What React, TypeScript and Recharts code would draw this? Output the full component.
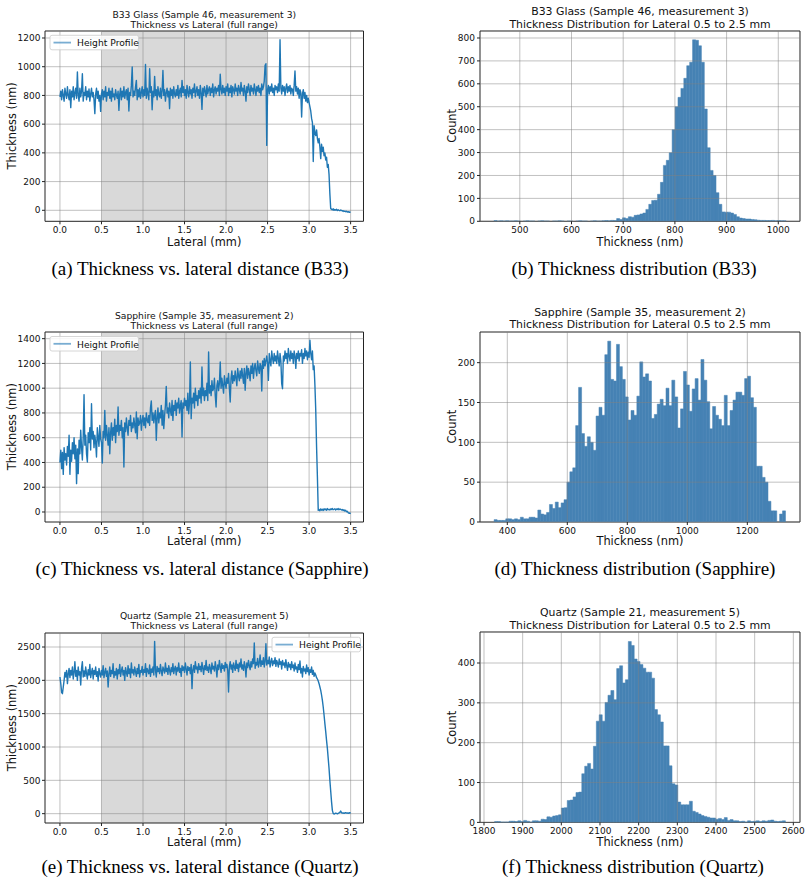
import React from 'react';
import {
  ComposedChart,
  Line,
  Bar,
  XAxis,
  YAxis,
  ReferenceArea,
  ReferenceLine,
} from 'recharts';

// ---------------------------------------------------------------------------
// Height profiles, sampled every 0.01 mm from 0.00 mm to 3.50 mm (351 points)
// ---------------------------------------------------------------------------
const LATERAL_STEP_MM = 0.01;

const B33_THICKNESS = [
  790, 830, 770, 840, 800, 760, 850, 810, 780, 860,
  800, 770, 840, 715, 830, 790, 860, 770, 820, 850,
  780, 963, 800, 760, 850, 790, 830, 951, 760, 820,
  800, 860, 770, 830, 790, 845, 760, 810, 850, 790,
  820, 770, 673, 810, 850, 780, 830, 760, 800, 689,
  810, 840, 770, 830, 790, 860, 760, 820, 800, 850,
  780, 830, 760, 850, 790, 810, 770, 840, 800, 780,
  830, 696, 810, 850, 770, 830, 790, 860, 780, 820,
  840, 770, 850, 691, 820, 800, 870, 998, 790, 830,
  800, 860, 905, 770, 840, 790, 850, 780, 820, 860,
  790, 840, 800, 1016, 780, 850, 810, 770, 986, 820,
  860, 700, 830, 790, 933, 800, 840, 770, 860, 810,
  790, 850, 780, 830, 974, 800, 840, 760, 820, 850,
  790, 830, 708, 850, 800, 840, 780, 860, 810, 790,
  840, 800, 870, 780, 830, 850, 790, 905, 820, 860,
  800, 840, 780, 870, 820, 790, 860, 810, 840, 780,
  850, 820, 880, 790, 830, 860, 800, 840, 780, 870,
  820, 703, 850, 800, 860, 830, 790, 870, 810, 840,
  860, 800, 850, 820, 880, 790, 840, 860, 810, 850,
  830, 870, 800, 947, 840, 810, 870, 820, 850, 800,
  860, 830, 880, 800, 850, 820, 870, 790, 860, 840,
  810, 880, 830, 850, 800, 870, 840, 810, 890, 830,
  850, 800, 870, 830, 760, 860, 820, 880, 840, 800,
  870, 830, 850, 810, 880, 840, 800, 860, 830, 870,
  820, 850, 800, 880, 840, 860, 900, 1009, 1021, 452,
  840, 870, 810, 860, 830, 880, 820, 850, 800, 870,
  840, 860, 820, 880, 830, 1188, 850, 810, 870, 830,
  860, 800, 850, 880, 820, 860, 830, 870, 810, 850,
  840, 800, 870, 970, 830, 860, 810, 850, 780, 840,
  820, 650, 810, 840, 780, 820, 760, 800, 750, 780,
  750, 720, 690, 640, 610, 340, 590, 540, 520, 560,
  500, 470, 500, 440, 360, 460, 410, 440, 380, 400,
  350, 370, 300, 320, 250, 116, 12, 8, 3, 10,
  0, 5, 2, 7, -2, 4, 0, -3, 2, -1,
  -5, -3, -8, -6, -10, -7, -12, -9, -14, -12,
  -15,
];

const SAPPHIRE_THICKNESS = [
  400, 500, 350, 480, 304, 520, 420, 470, 380, 530,
  450, 620, 304, 500, 410, 560, 470, 600, 430, 540,
  229, 510, 310, 580, 470, 660, 520, 420, 600, 948,
  540, 620, 470, 404, 640, 560, 680, 500, 875, 590,
  650, 520, 620, 560, 444, 680, 600, 530, 700, 590,
  560, 396, 650, 600, 821, 580, 700, 620, 540, 680,
  471, 640, 720, 580, 680, 620, 750, 560, 700, 650,
  848, 620, 700, 660, 740, 600, 680, 363, 720, 650,
  760, 680, 620, 740, 700, 780, 650, 720, 680, 760,
  700, 640, 808, 592, 760, 700, 720, 780, 660, 740,
  780, 700, 760, 680, 800, 740, 720, 780, 700, 840,
  897, 740, 800, 720, 780, 820, 579, 760, 840, 720,
  800, 760, 860, 700, 820, 673, 780, 860, 1015, 800,
  840, 760, 880, 820, 780, 900, 740, 860, 820, 900,
  780, 880, 840, 920, 800, 860, 900, 606, 880, 840,
  920, 860, 900, 820, 960, 794, 880, 1212, 754, 920,
  880, 960, 840, 1000, 900, 940, 860, 980, 920, 1000,
  880, 1171, 940, 1000, 900, 980, 940, 1040, 900, 1292,
  960, 1020, 940, 1060, 980, 1000, 1080, 940, 848, 1020,
  1060, 980, 1040, 1212, 1000, 1080, 1020, 960, 1100, 1040,
  1000, 1080, 1040, 1120, 1000, 888, 1080, 1140, 1040, 1100,
  1060, 1140, 1080, 1020, 1160, 1100, 1060, 1140, 1080, 1160,
  1100, 1040, 1160, 983, 1120, 1180, 1080, 1160, 1120, 1060,
  1180, 1120, 1200, 1080, 1160, 1200, 1140, 1100, 1220, 1160,
  1120, 1200, 1180, 977, 1220, 1160, 1240, 1180, 1220, 1260,
  1200, 1063, 1280, 1220, 1180, 1300, 1240, 1200, 1280, 1220,
  1260, 1200, 1300, 1240, 1180, 1280, 1220, 1037, 996, 1260,
  1220, 1300, 1240, 1280, 1200, 1320, 1260, 1220, 1300, 1240,
  1280, 1200, 1300, 1260, 1160, 1280, 1240, 1300, 1220, 1280,
  1260, 1310, 1200, 1280, 1240, 1320, 1260, 1300, 1230, 1290,
  1250, 1387, 1280, 1230, 1300, 1150, 1180, 1023, 821, 525,
  283, 13, 20, 10, 25, 15, 22, 12, 26, 18,
  24, 14, 28, 18, 22, 16, 25, 20, 28, 18,
  22, 26, 16, 24, 20, 28, 18, 25, 22, 16,
  20, 12, 18, 8, 14, 2, 6, -5, -10, -8,
  -15,
];

const QUARTZ_THICKNESS = [
  2050, 1950, 1820, 1800, 1900, 2000, 2120, 2050, 2150, 1950,
  2100, 2180, 2040, 2150, 2080, 2200, 2020, 2120, 2280, 2060,
  2150, 2000, 2200, 2080, 2130, 1930, 2180, 2280, 2050, 2140,
  2060, 2200, 2100, 2020, 2160, 2080, 2240, 2040, 2120, 2180,
  2020, 2150, 2090, 2200, 2060, 2130, 1990, 2180, 2100, 2050,
  2150, 2080, 2220, 2040, 2120, 2180, 2060, 2140, 1900, 2100,
  2200, 2060, 2150, 2100, 2250, 2040, 2130, 2080, 2180, 2020,
  2160, 2100, 2240, 2060, 2140, 2200, 2080, 2150, 2000, 2190,
  2120, 2060, 2220, 2100, 2170, 2040, 2260, 2110, 2160, 2080,
  2200, 2130, 2060, 2180, 2100, 2240, 2050, 2150, 2120, 2210,
  2080, 2160, 2120, 2250, 2060, 2180, 2140, 2100, 2230, 2060,
  2170, 2120, 2200, 2080, 2585, 2150, 2050, 2210, 2130, 2180,
  2100, 2240, 2140, 2070, 2200, 2160, 2110, 2260, 2130, 2180,
  2090, 2220, 2150, 2080, 2190, 2130, 2250, 2100, 2170, 2210,
  2080, 2190, 2140, 2260, 2120, 2180, 2060, 2220, 2150, 2200,
  2120, 2260, 2170, 2080, 2210, 2150, 2190, 2100, 2240, 1875,
  2160, 2220, 2120, 2280, 2170, 2200, 2110, 2250, 2160, 2210,
  2130, 2270, 2180, 2090, 2220, 2160, 2300, 2150, 2200, 2120,
  2240, 2180, 2100, 2260, 2170, 2210, 2140, 2280, 2190, 2050,
  2230, 2160, 2300, 2200, 2120, 2250, 2180, 2220, 2140, 2270,
  2190, 2240, 2150, 1825, 2210, 2280, 2170, 2230, 2120, 2260,
  2200, 2150, 2300, 2180, 2240, 2130, 2260, 2200, 2320, 2170,
  2230, 2150, 2280, 2210, 2050, 2260, 2190, 2300, 2220, 2160,
  2280, 2200, 2320, 2250, 2560, 2180, 2270, 2230, 2330, 2200,
  2260, 2380, 2210, 2290, 2240, 2340, 2200, 2280, 2550, 2230,
  2300, 2250, 2350, 2200, 2280, 2330, 2220, 2290, 2250, 2340,
  2210, 2300, 2260, 2200, 2320, 2240, 2280, 2170, 2300, 2230,
  2260, 2190, 2310, 2220, 2150, 2270, 2200, 2240, 2160, 2280,
  2190, 2230, 2140, 2260, 2170, 2200, 2120, 2240, 2160, 2290,
  2110, 2180, 2050, 2210, 2140, 2170, 2100, 2230, 2130, 2190,
  2080, 2160, 2120, 2200, 2090, 2150, 2060, 2110, 2080, 2040,
  2020, 1990, 1950, 1900, 1850, 1780, 1700, 1600, 1480, 1350,
  1230, 1100, 980, 830, 680, 500, 340, 180, 50, 5,
  -5, 0, 8, 3, -2, 5, 12, 20, 40, 15,
  8, 12, 5, 10, 15, 8, 12, 6, 10, 14,
  8,
];

// ---------------------------------------------------------------------------
// Thickness histograms for lateral 0.5–2.5 mm (100 equal-width bins each)
// ---------------------------------------------------------------------------
const B33_BIN_START = 450;
const B33_BIN_WIDTH = 5.65;
const B33_COUNTS = [
  3, 1, 2, 1, 2, 1, 1, 2, 1, 0,
  1, 2, 1, 1, 0, 1, 2, 1, 1, 0,
  1, 1, 2, 1, 0, 1, 1, 0, 1, 2,
  1, 1, 0, 1, 2, 1, 1, 2, 3, 2,
  4, 3, 12, 8, 15, 12, 20, 18, 26, 28,
  32, 36, 52, 74, 91, 92, 118, 170, 244, 266,
  299, 400, 500, 541, 580, 624, 679, 694, 792, 790,
  766, 694, 490, 321, 222, 200, 125, 74, 41, 40,
  40, 36, 30, 20, 14, 12, 10, 10, 8, 7,
  5, 4, 4, 3, 3, 4, 2, 3, 2, 2,
];

const SAPPHIRE_BIN_START = 356;
const SAPPHIRE_BIN_WIDTH = 9.71;
const SAPPHIRE_COUNTS = [
  3, 2, 2, 2, 4, 4, 3, 4, 3, 6,
  4, 4, 6, 6, 5, 15, 10, 9, 12, 22,
  17, 25, 18, 24, 28, 50, 63, 68, 121, 169,
  111, 95, 107, 100, 90, 133, 144, 134, 210, 227,
  179, 177, 223, 195, 179, 157, 128, 140, 134, 158,
  201, 182, 186, 177, 130, 135, 148, 154, 146, 168,
  146, 178, 157, 118, 142, 189, 172, 139, 167, 180,
  153, 204, 178, 151, 117, 145, 134, 129, 121, 159,
  121, 140, 153, 163, 163, 159, 180, 183, 156, 144,
  70, 70, 56, 50, 26, 14, 14, 0, 10, 14,
];

const QUARTZ_BIN_START = 1827.3;
const QUARTZ_BIN_WIDTH = 7.52;
const QUARTZ_COUNTS = [
  2, 2, 1, 1, 1, 3, 3, 2, 4, 2,
  5, 3, 1, 4, 4, 3, 8, 7, 14, 13,
  16, 17, 19, 36, 37, 55, 56, 64, 75, 76,
  122, 141, 148, 134, 191, 254, 270, 254, 301, 319,
  331, 308, 386, 393, 350, 358, 454, 444, 410, 404,
  396, 387, 377, 377, 362, 283, 270, 252, 192, 192,
  142, 97, 94, 51, 44, 44, 44, 53, 28, 25,
  21, 17, 15, 13, 11, 11, 8, 10, 7, 12,
  5, 7, 4, 4, 2, 3, 1, 4, 2, 3,
  4, 2, 4, 3, 5, 6, 3, 2, 3, 4,
];

// ---------------------------------------------------------------------------
// Axis ticks
// ---------------------------------------------------------------------------
const LATERAL_TICKS = [0, 0.5, 1, 1.5, 2, 2.5, 3, 3.5];
const B33_PROFILE_TICKS = [0, 200, 400, 600, 800, 1000, 1200];
const SAPPHIRE_PROFILE_TICKS = [0, 200, 400, 600, 800, 1000, 1200, 1400];
const QUARTZ_PROFILE_TICKS = [0, 500, 1000, 1500, 2000, 2500];

const B33_HIST_X_TICKS = [500, 600, 700, 800, 900, 1000];
const B33_HIST_Y_TICKS = [0, 100, 200, 300, 400, 500, 600, 700, 800];
const SAPPHIRE_HIST_X_TICKS = [400, 600, 800, 1000, 1200];
const SAPPHIRE_HIST_Y_TICKS = [0, 50, 100, 150, 200];
const QUARTZ_HIST_X_TICKS = [1800, 1900, 2000, 2100, 2200, 2300, 2400, 2500, 2600];
const QUARTZ_HIST_Y_TICKS = [0, 100, 200, 300, 400];

// Highlighted lateral window used for the histograms
const WINDOW_START_MM = 0.5;
const WINDOW_END_MM = 2.5;

// ---------------------------------------------------------------------------
// Styling / layout
// ---------------------------------------------------------------------------
const SANS = 'DejaVu Sans, Verdana, sans-serif';
const SERIF = 'Liberation Serif, Times New Roman, serif';
const INK = '#111';
const SMALL_FONT = 9.2;
const TICK_FONT = 9;
const LARGE_FONT = 11.4;
const HIST_TITLE_FONT = 10.9;
const TICK_STYLE = { fontSize: TICK_FONT, fill: INK, fontFamily: SANS };
const GRID = { stroke: '#808080', strokeOpacity: 0.55, strokeWidth: 0.9 };
const LINE_BLUE = '#1f77b4';
const BAR_BLUE = '#4682b4';

const Y_AXIS_W = 45;
const X_AXIS_H = 30;
const PAD = 6;

type Rect = { left: number; right: number; top: number; bottom: number };

const LATERAL_DOMAIN: [number, number] = [-0.18, 3.655];

const PLOT_A: Rect = { left: 45, right: 363.5, top: 30.7, bottom: 221 };
const PLOT_B: Rect = { left: 480, right: 800, top: 30.7, bottom: 221 };
const PLOT_C: Rect = { left: 45, right: 363.5, top: 331.7, bottom: 521.7 };
const PLOT_D: Rect = { left: 480, right: 800, top: 331.7, bottom: 521.7 };
const PLOT_E: Rect = { left: 45, right: 363.5, top: 632.7, bottom: 822.7 };
const PLOT_F: Rect = { left: 480, right: 800, top: 632.3, bottom: 822.7 };

function chartBox(plot: Rect) {
  return {
    left: plot.left - Y_AXIS_W,
    top: plot.top - PAD,
    width: plot.right - plot.left + Y_AXIS_W + PAD,
    height: plot.bottom - plot.top + PAD + X_AXIS_H,
  };
}

type ProfileProps = {
  plot: Rect;
  values: number[];
  yDomain: [number, number];
  yTicks: number[];
};

function ProfilePanel({ plot, values, yDomain, yTicks }: ProfileProps) {
  const rows = values.map((t, i) => ({
    lateral: Math.round(i * LATERAL_STEP_MM * 1000) / 1000,
    thickness: t,
  }));
  const box = chartBox(plot);
  return (
    <div style={{ position: 'absolute', left: box.left, top: box.top }}>
      <ComposedChart
        width={box.width}
        height={box.height}
        data={rows}
        margin={{ top: PAD, right: PAD, bottom: 0, left: 0 }}
      >
        <XAxis
          type="number"
          dataKey="lateral"
          domain={LATERAL_DOMAIN}
          ticks={LATERAL_TICKS}
          interval={0}
          allowDataOverflow
          height={X_AXIS_H}
          axisLine={false}
          tickLine={{ stroke: '#222' }}
          tickSize={3}
          tickMargin={2.6}
          tick={TICK_STYLE}
          tickFormatter={(v: number) => v.toFixed(1)}
        />
        <YAxis
          type="number"
          domain={yDomain}
          ticks={yTicks}
          interval={0}
          allowDataOverflow
          width={Y_AXIS_W}
          axisLine={false}
          tickLine={{ stroke: '#222' }}
          tickSize={3}
          tickMargin={1.5}
          tick={TICK_STYLE}
        />
        <ReferenceArea
          x1={WINDOW_START_MM}
          x2={WINDOW_END_MM}
          fill="#808080"
          fillOpacity={0.3}
          stroke="none"
        />
        {LATERAL_TICKS.map((t) => (
          <ReferenceLine key={'gx' + t} x={t} {...GRID} />
        ))}
        {yTicks.map((t) => (
          <ReferenceLine key={'gy' + t} y={t} {...GRID} />
        ))}
        <Line
          type="linear"
          dataKey="thickness"
          stroke={LINE_BLUE}
          strokeWidth={1.4}
          strokeLinejoin="round"
          dot={false}
          activeDot={false}
          isAnimationActive={false}
        />
        <ReferenceArea
          x1={LATERAL_DOMAIN[0]}
          x2={LATERAL_DOMAIN[1]}
          y1={yDomain[0]}
          y2={yDomain[1]}
          fill="none"
          stroke="#222"
          strokeWidth={1}
        />
      </ComposedChart>
    </div>
  );
}

type HistProps = {
  plot: Rect;
  counts: number[];
  binStart: number;
  binWidth: number;
  xDomain: [number, number];
  xTicks: number[];
  yDomain: [number, number];
  yTicks: number[];
};

function HistogramPanel({
  plot,
  counts,
  binStart,
  binWidth,
  xDomain,
  xTicks,
  yDomain,
  yTicks,
}: HistProps) {
  const rows = counts.map((c, i) => ({
    center: binStart + (i + 0.5) * binWidth,
    count: c,
  }));
  const box = chartBox(plot);
  return (
    <div style={{ position: 'absolute', left: box.left, top: box.top }}>
      <ComposedChart
        width={box.width}
        height={box.height}
        data={rows}
        margin={{ top: PAD, right: PAD, bottom: 0, left: 0 }}
        barCategoryGap={0}
        barGap={0}
      >
        <XAxis
          type="number"
          dataKey="center"
          domain={xDomain}
          ticks={xTicks}
          interval={0}
          allowDataOverflow
          height={X_AXIS_H}
          axisLine={false}
          tickLine={{ stroke: '#222' }}
          tickSize={3}
          tickMargin={2.6}
          tick={TICK_STYLE}
        />
        <YAxis
          type="number"
          domain={yDomain}
          ticks={yTicks}
          interval={0}
          allowDataOverflow
          width={Y_AXIS_W}
          axisLine={false}
          tickLine={{ stroke: '#222' }}
          tickSize={3}
          tickMargin={2}
          tick={TICK_STYLE}
        />
        <Bar
          dataKey="count"
          fill={BAR_BLUE}
          stroke={BAR_BLUE}
          strokeWidth={0.5}
          isAnimationActive={false}
        />
        {xTicks.map((t) => (
          <ReferenceLine key={'gx' + t} x={t} {...GRID} />
        ))}
        {yTicks.map((t) => (
          <ReferenceLine key={'gy' + t} y={t} {...GRID} />
        ))}
        <ReferenceArea
          x1={xDomain[0]}
          x2={xDomain[1]}
          y1={yDomain[0]}
          y2={yDomain[1]}
          fill="none"
          stroke="#222"
          strokeWidth={1}
        />
      </ComposedChart>
    </div>
  );
}

function ProfileLegend({ x, y }: { x: number; y: number }) {
  return (
    <g>
      <rect
        x={x}
        y={y}
        width={88.5}
        height={14.5}
        rx={2}
        fill="#fff"
        fillOpacity={0.85}
        stroke="#cccccc"
        strokeWidth={0.8}
      />
      <line
        x1={x + 3.5}
        x2={x + 21}
        y1={y + 7.3}
        y2={y + 7.3}
        stroke={LINE_BLUE}
        strokeOpacity={0.6}
        strokeWidth={1.8}
      />
      <text
        x={x + 27}
        y={y + 7.5}
        fontSize={SMALL_FONT}
        fontFamily={SANS}
        fill={INK}
        dominantBaseline="central"
      >
        Height Profile
      </text>
    </g>
  );
}

function Annotations() {
  const small = { fontSize: SMALL_FONT, fontFamily: SANS, fill: INK, textAnchor: 'middle' as const, dominantBaseline: 'central' as const };
  const big = { fontSize: LARGE_FONT, fontFamily: SANS, fill: INK, textAnchor: 'middle' as const, dominantBaseline: 'central' as const };
  const htitle = { ...big, fontSize: HIST_TITLE_FONT };
  const cap = { fontSize: 19, fontFamily: SERIF, fill: '#000', textAnchor: 'middle' as const, dominantBaseline: 'central' as const };
  const lx = (PLOT_A.left + PLOT_A.right) / 2;
  const hx = (PLOT_B.left + PLOT_B.right) / 2;
  const midA = (PLOT_A.top + PLOT_A.bottom) / 2;
  const midC = (PLOT_C.top + PLOT_C.bottom) / 2;
  const midE = (PLOT_E.top + PLOT_E.bottom) / 2;
  return (
    <svg
      width={810}
      height={885}
      style={{ position: 'absolute', left: 0, top: 0, pointerEvents: 'none' }}
    >
      {/* Row 1: B33 glass */}
      <text x={lx} y={14} {...small}>B33 Glass (Sample 46, measurement 3)</text>
      <text x={lx} y={24.3} {...small}>Thickness vs Lateral (full range)</text>
      <text x={hx} y={11.4} {...htitle}>B33 Glass (Sample 46, measurement 3)</text>
      <text x={hx} y={24.2} {...htitle}>Thickness Distribution for Lateral 0.5 to 2.5 mm</text>
      <text x={11.7} y={midA} {...big} transform={`rotate(-90 11.7 ${midA})`}>Thickness (nm)</text>
      <text x={451.7} y={midA} {...big} transform={`rotate(-90 451.7 ${midA})`}>Count</text>
      <text x={lx} y={241.5} {...big}>Lateral (mm)</text>
      <text x={hx} y={241.5} {...big}>Thickness (nm)</text>
      <ProfileLegend x={50} y={35.3} />
      <text x={200} y={268} {...cap}>(a) Thickness vs. lateral distance (B33)</text>
      <text x={634} y={268} {...cap}>(b) Thickness distribution (B33)</text>

      {/* Row 2: sapphire */}
      <text x={lx} y={315} {...small}>Sapphire (Sample 35, measurement 2)</text>
      <text x={lx} y={325.3} {...small}>Thickness vs Lateral (full range)</text>
      <text x={hx} y={312} {...htitle}>Sapphire (Sample 35, measurement 2)</text>
      <text x={hx} y={324.6} {...htitle}>Thickness Distribution for Lateral 0.5 to 2.5 mm</text>
      <text x={11.7} y={midC} {...big} transform={`rotate(-90 11.7 ${midC})`}>Thickness (nm)</text>
      <text x={451.7} y={midC} {...big} transform={`rotate(-90 451.7 ${midC})`}>Count</text>
      <text x={lx} y={541} {...big}>Lateral (mm)</text>
      <text x={hx} y={541} {...big}>Thickness (nm)</text>
      <ProfileLegend x={50} y={336.5} />
      <text x={202} y={568} {...cap}>(c) Thickness vs. lateral distance (Sapphire)</text>
      <text x={635} y={568} {...cap}>(d) Thickness distribution (Sapphire)</text>

      {/* Row 3: quartz */}
      <text x={lx} y={615} {...small}>Quartz (Sample 21, measurement 5)</text>
      <text x={lx} y={625.7} {...small}>Thickness vs Lateral (full range)</text>
      <text x={hx} y={612.6} {...htitle}>Quartz (Sample 21, measurement 5)</text>
      <text x={hx} y={625.2} {...htitle}>Thickness Distribution for Lateral 0.5 to 2.5 mm</text>
      <text x={11.7} y={midE} {...big} transform={`rotate(-90 11.7 ${midE})`}>Thickness (nm)</text>
      <text x={451.7} y={midE} {...big} transform={`rotate(-90 451.7 ${midE})`}>Count</text>
      <text x={lx} y={842} {...big}>Lateral (mm)</text>
      <text x={hx} y={842} {...big}>Thickness (nm)</text>
      <ProfileLegend x={272} y={637.3} />
      <text x={200} y={866} {...cap}>(e) Thickness vs. lateral distance (Quartz)</text>
      <text x={633} y={866} {...cap}>(f) Thickness distribution (Quartz)</text>
    </svg>
  );
}

export default function App() {
  return (
    <div
      style={{
        position: 'absolute',
        left: 0,
        top: 0,
        width: 810,
        height: 885,
        background: '#fff',
        overflow: 'hidden',
      }}
    >
      <ProfilePanel
        plot={PLOT_A}
        values={B33_THICKNESS}
        yDomain={[-76.6, 1248.7]}
        yTicks={B33_PROFILE_TICKS}
      />
      <HistogramPanel
        plot={PLOT_B}
        counts={B33_COUNTS}
        binStart={B33_BIN_START}
        binWidth={B33_BIN_WIDTH}
        xDomain={[423, 1042]}
        xTicks={B33_HIST_X_TICKS}
        yDomain={[0, 830.5]}
        yTicks={B33_HIST_Y_TICKS}
      />
      <ProfilePanel
        plot={PLOT_C}
        values={SAPPHIRE_THICKNESS}
        yDomain={[-80.8, 1453.8]}
        yTicks={SAPPHIRE_PROFILE_TICKS}
      />
      <HistogramPanel
        plot={PLOT_D}
        counts={SAPPHIRE_COUNTS}
        binStart={SAPPHIRE_BIN_START}
        binWidth={SAPPHIRE_BIN_WIDTH}
        xDomain={[309, 1375.6]}
        xTicks={SAPPHIRE_HIST_X_TICKS}
        yDomain={[0, 238.5]}
        yTicks={SAPPHIRE_HIST_Y_TICKS}
      />
      <ProfilePanel
        plot={PLOT_E}
        values={QUARTZ_THICKNESS}
        yDomain={[-140, 2710]}
        yTicks={QUARTZ_PROFILE_TICKS}
      />
      <HistogramPanel
        plot={PLOT_F}
        counts={QUARTZ_COUNTS}
        binStart={QUARTZ_BIN_START}
        binWidth={QUARTZ_BIN_WIDTH}
        xDomain={[1789.7, 2617.2]}
        xTicks={QUARTZ_HIST_X_TICKS}
        yDomain={[0, 477.8]}
        yTicks={QUARTZ_HIST_Y_TICKS}
      />
      <Annotations />
    </div>
  );
}
